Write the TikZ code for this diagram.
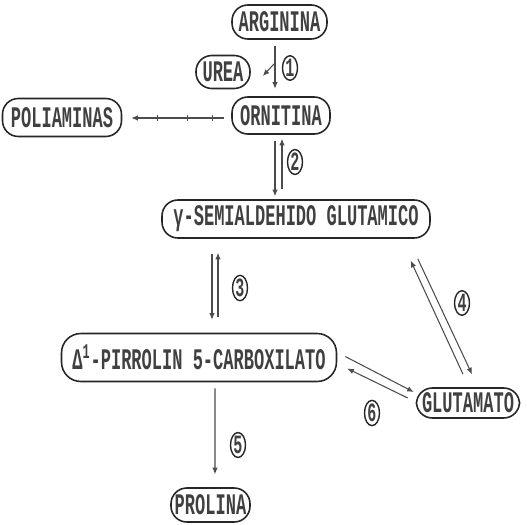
\documentclass[tikz,border=0pt]{standalone}
\usepackage{fontspec}
\newfontfamily\boxfont[FakeStretch=0.57]{Liberation Mono Bold}
\usetikzlibrary{shapes.geometric,arrows.meta,calc,decorations.markings}

\begin{document}
\begin{tikzpicture}[x=0.02cm, y=-0.02cm,
  metab/.style={draw=black!85, line width=0.9pt, rounded corners=9pt, inner sep=1pt,
    font=\boxfont\fontsize{17}{18}\selectfont, text=black!75},
  num/.style={draw=black!85, ellipse, line width=0.8pt, inner sep=0pt,
    minimum width=0.3cm, minimum height=0.46cm, font=\boxfont\fontsize{15}{16}\selectfont, text=black!75},
  arr/.style={-{Latex[length=1.3mm,width=1.1mm]}, line width=0.6pt, draw=black!70},
  ticked/.style={postaction={decorate}, decoration={markings,
    mark=at position 0.13 with {\draw[-, line width=0.6pt] (0,-3) -- (0,3);},
    mark=at position 0.40 with {\draw[-, line width=0.6pt] (0,-3) -- (0,3);},
    mark=at position 0.72 with {\draw[-, line width=0.6pt] (0,-3) -- (0,3);}}},
]
\useasboundingbox (0,0) rectangle (527,524);

% === METABOLITES ===
\node[metab, minimum width=1.9cm, minimum height=0.68cm] (arg) at (279.5,22) {ARGININA};
\node[metab, minimum width=1.08cm, minimum height=0.66cm] (urea) at (223,72) {UREA};
\node[metab, minimum width=1.96cm, minimum height=0.74cm] (orn) at (281,115.5) {ORNITINA};
\node[metab, minimum width=2.38cm, minimum height=0.76cm] (pol) at (62,117.5) {POLIAMINAS};
\node[metab, minimum width=5.36cm, minimum height=0.76cm] (gsa) at (296,219) {γ-SEMIALDEHIDO GLUTAMICO};
\node[metab, minimum width=5.5cm, minimum height=0.96cm, rounded corners=11pt] (pcx) at (199,357.5) {Δ\textsuperscript{1}-PIRROLIN 5-CARBOXILATO};
\node[metab, minimum width=2.06cm, minimum height=0.6cm] (glu) at (468,403) {GLUTAMATO};
\node[metab, minimum width=1.58cm, minimum height=0.68cm] (pro) at (210.5,505) {PROLINA};

% === REACTIONS ===
\draw[arr] ($(arg.south)+(-4.5,6)$) -- coordinate[pos=0.4] (br) ($(orn.north)+(-6,-7.5)$);
\draw[arr] (br) -- ($(urea.east)+(12,4)$);
\draw[arr, ticked] ($(orn.west)+(-7,2.5)$) -- ($(pol.east)+(9,0.5)$);

\draw[arr] ($(orn.south)+(-6,6)$) -- ($(gsa.north)+(-21,-3)$);
\draw[arr] ($(gsa.north)+(-14,-10)$) -- ($(orn.south)+(1,4)$);

\draw[arr] ($(gsa.south)+(-84,15)$) -- ($(pcx.north)+(13,-13)$);
\draw[arr] ($(pcx.north)+(19,-16)$) -- ($(gsa.south)+(-78,14)$);

\draw[arr] ($(glu.north)+(-5,-13)$) -- ($(gsa.south east)+(-20,22)$);
\draw[arr] ($(gsa.south east)+(-13,20)$) -- ($(glu.north)+(4,-13)$);

\draw[arr] ($(pcx.east)+(8,-1)$) -- ($(glu.west)+(-2,-11)$);
\draw[arr] ($(glu.west)+(-8,-5)$) -- ($(pcx.east)+(10,11)$);

\draw[arr] ($(pcx.south)+(16,6)$) -- ($(pro.north)+(4.5,-13)$);

% === ENZYME NUMBERS ===
\node[num] (n1) at (290,68) {1};
\node[num] (n2) at (295,162) {2};
\node[num] (n3) at (240,288) {3};
\node[num] (n4) at (462,303) {4};
\node[num] (n5) at (238,445) {5};
\node[num] (n6) at (372,413) {6};
\end{tikzpicture}
\end{document}
